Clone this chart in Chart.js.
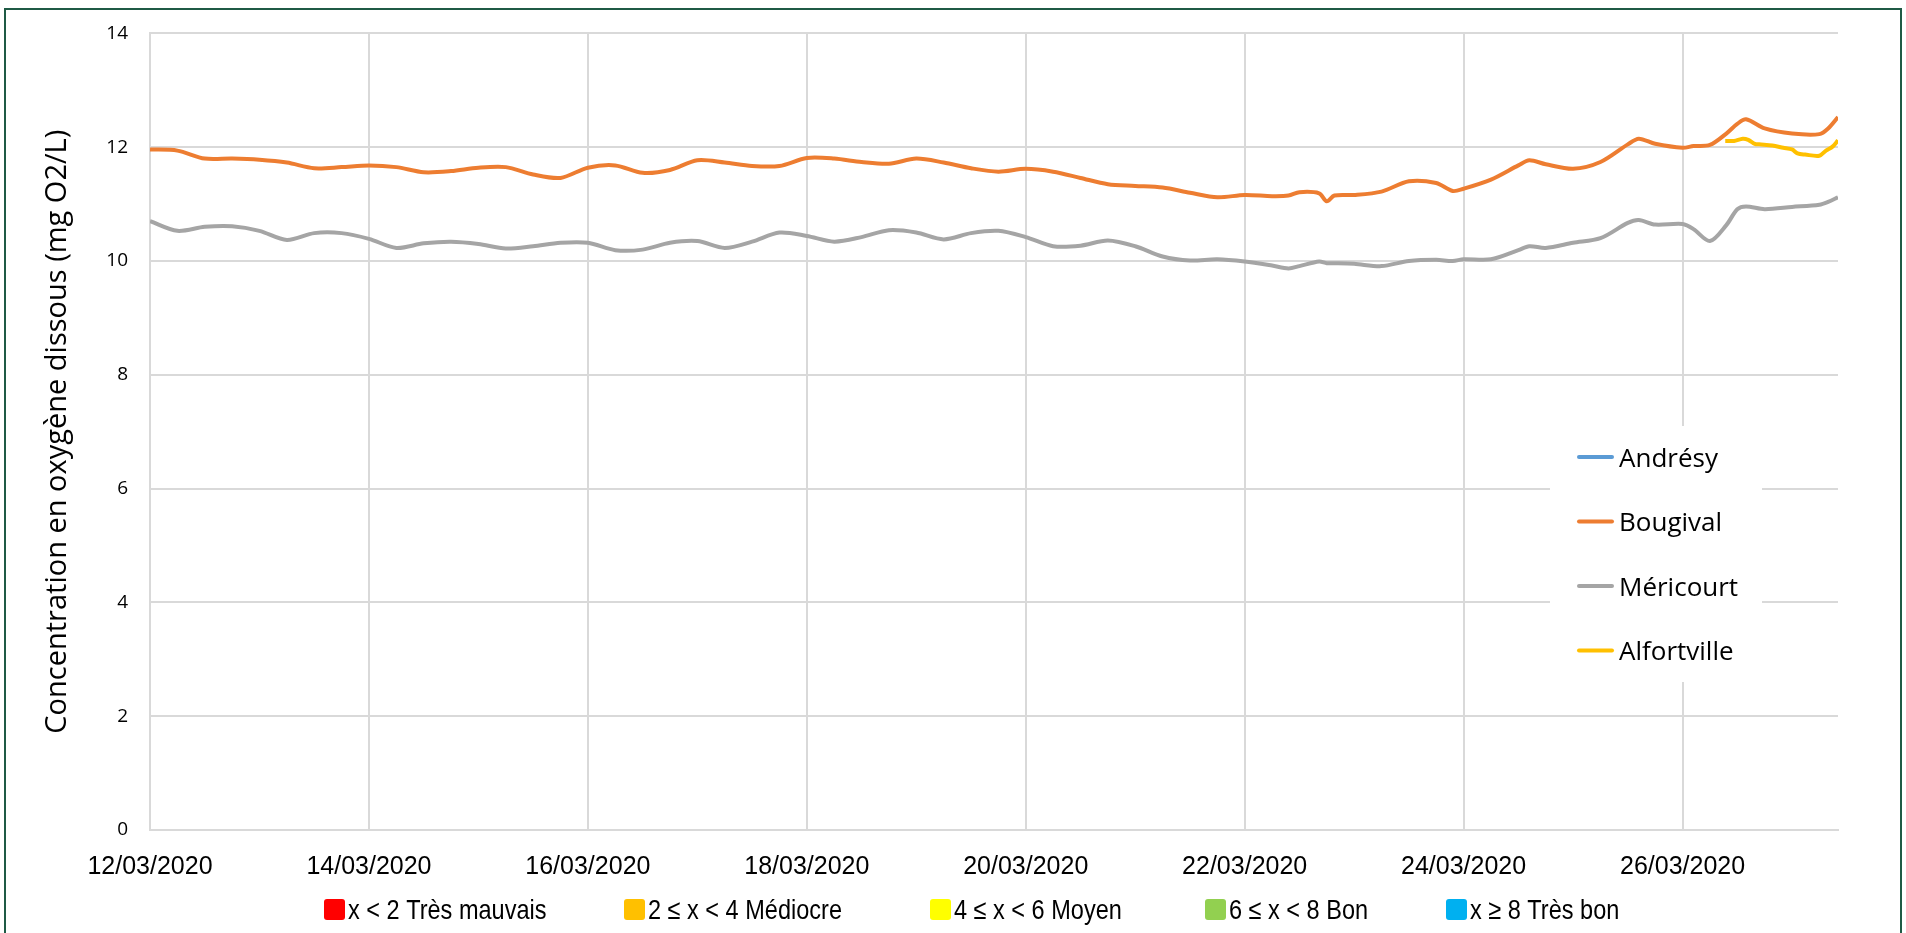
<!DOCTYPE html>
<html lang="fr">
<head>
<meta charset="utf-8">
<title>Oxygène dissous</title>
<script src="https://cdn.jsdelivr.net/npm/chart.js@4.4.1/dist/chart.umd.min.js"></script>
<style>
  html, body { margin: 0; padding: 0; background: #fff; }
  #zone { position: absolute; left: 0; top: 0; width: 1906px; height: 933px; }
  #cadre { position: absolute; left: 4px; top: 8px; width: 1894px; height: 1000px; border: 2px solid #1f5a45; pointer-events: none; }
</style>
</head>
<body>
<div id="zone"><canvas id="grafico" width="1906" height="933"></canvas></div>
<div id="cadre"></div>
<script>
// Fechas del eje (días desde el 12/03/2020)
const etiquetasFechas = ["12/03/2020", "14/03/2020", "16/03/2020", "18/03/2020",
    "20/03/2020", "22/03/2020", "24/03/2020", "26/03/2020"];

const jours = [0, 0.25, 0.5, 0.75, 1, 1.25, 1.5, 1.75, 2, 2.25, 2.5, 2.75, 3, 3.25, 3.5, 3.75,
    4, 4.25, 4.5, 4.75, 5, 5.25, 5.5, 5.75, 6, 6.25, 6.5, 6.75, 7, 7.25, 7.5, 7.75,
    8, 8.25, 8.5, 8.75, 9, 9.25, 9.5, 9.75, 10, 10.25, 10.4, 10.5, 10.68, 10.75, 10.82,
    11, 11.25, 11.5, 11.75, 11.9, 12, 12.25, 12.5, 12.6, 12.75, 13, 13.25, 13.5, 13.6, 13.75,
    14, 14.1, 14.25, 14.4, 14.5, 14.58, 14.75, 15, 15.25, 15.33, 15.42];

const bougival = [11.96, 11.94, 11.80, 11.80, 11.78, 11.73, 11.63, 11.65, 11.68, 11.65, 11.56, 11.58, 11.64, 11.65, 11.52, 11.46,
    11.64, 11.68, 11.55, 11.60, 11.77, 11.73, 11.67, 11.67, 11.81, 11.80, 11.74, 11.71, 11.80, 11.73, 11.63, 11.57,
    11.62, 11.57, 11.46, 11.35, 11.32, 11.29, 11.20, 11.12, 11.16, 11.14, 11.15, 11.21, 11.19, 11.05, 11.15,
    11.16, 11.22, 11.40, 11.37, 11.23, 11.27, 11.43, 11.68, 11.77, 11.70, 11.62, 11.74, 12.05, 12.15, 12.06,
    11.99, 12.02, 12.04, 12.24, 12.41, 12.49, 12.33, 12.24, 12.23, 12.33, 12.53];

const mericourt = [10.70, 10.53, 10.60, 10.61, 10.53, 10.37, 10.49, 10.49, 10.39, 10.23, 10.31, 10.34, 10.30, 10.22, 10.26, 10.32,
    10.32, 10.19, 10.20, 10.32, 10.35, 10.23, 10.34, 10.50, 10.44, 10.34, 10.42, 10.54, 10.50, 10.38, 10.49, 10.53,
    10.42, 10.26, 10.27, 10.36, 10.26, 10.08, 10.01, 10.03, 9.99, 9.92, 9.87, 9.91, 9.99, 9.96, 9.96,
    9.95, 9.91, 10.00, 10.02, 10.00, 10.03, 10.03, 10.19, 10.26, 10.23, 10.32, 10.40, 10.67, 10.72, 10.64,
    10.65, 10.56, 10.35, 10.63, 10.91, 10.96, 10.91, 10.95, 10.99, 11.04, 11.12];

const joursAlf = [14.39, 14.47, 14.55, 14.6, 14.66, 14.7, 14.82, 14.92, 15.0, 15.05, 15.12, 15.25, 15.31, 15.37, 15.42];
const alfortville = [12.11, 12.11, 12.15, 12.13, 12.06, 12.05, 12.03, 11.99, 11.96, 11.89, 11.87, 11.85, 11.94, 12.01, 12.12];

const andresy = [];

const clases = ["x < 2 Très mauvais", "2 ≤ x < 4 Médiocre", "4 ≤ x < 6 Moyen", "6 ≤ x < 8 Bon", "x ≥ 8 Très bon"];
const coloresClases = ["#ff0000", "#ffc000", "#ffff00", "#92d050", "#00b0f0"];

function puntos(xs, ys) {
    return ys.map((v, i) => ({ x: xs[i], y: v }));
}

// Leyendas dibujadas a mano (la de series dentro del gráfico y la de clases abajo)
const leyendas = {
    id: "leyendas",
    afterDraw(chart) {
        const ctx = chart.ctx;
        ctx.save();

        ctx.fillStyle = "#fff";
        ctx.fillRect(1550, 426, 212, 256);

        chart.data.datasets.forEach((ds, i) => {
            const y = 457 + i * 64.5;
            ctx.strokeStyle = ds.borderColor;
            ctx.lineWidth = 4;
            ctx.lineCap = "round";
            ctx.beginPath();
            ctx.moveTo(1579, y);
            ctx.lineTo(1612, y);
            ctx.stroke();
            ctx.fillStyle = "#000";
            ctx.font = "26px 'Open Sans'";
            ctx.textBaseline = "alphabetic";
            ctx.fillText(ds.label, 1619, y + 9.5);
        });

        // texto estrecho: se comprime en horizontal
        const estrecho = 0.84;
        const inicios = [324, 624, 930, 1205, 1446];
        ctx.font = "28px 'Liberation Sans'";
        clases.forEach((txt, i) => {
            const x = inicios[i];
            ctx.fillStyle = coloresClases[i];
            ctx.beginPath();
            ctx.roundRect(x, 899, 21, 21, 3);
            ctx.fill();
            ctx.fillStyle = "#000";
            ctx.save();
            ctx.translate(x + 24, 919);
            ctx.scale(estrecho, 1);
            ctx.fillText(txt, 0, 0);
            ctx.restore();
        });

        ctx.restore();
    }
};

const ctx = document.getElementById("grafico").getContext("2d");

new Chart(ctx, {
    type: "line",
    data: {
        datasets: [
            { label: "Andrésy", data: andresy, borderColor: "#5b9bd5" },
            { label: "Bougival", data: puntos(jours, bougival), borderColor: "#ed7d31" },
            { label: "Méricourt", data: puntos(jours, mericourt), borderColor: "#a5a5a5" },
            { label: "Alfortville", data: puntos(joursAlf, alfortville), borderColor: "#ffc000" }
        ]
    },
    options: {
        responsive: false,
        animation: false,
        layout: { padding: { left: 0, top: 32, right: 68, bottom: 43 } },
        elements: {
            line: { borderWidth: 4, tension: 0.3, fill: false },
            point: { radius: 0, hoverRadius: 0 }
        },
        plugins: {
            legend: { display: false },
            tooltip: { enabled: false }
        },
        scales: {
            x: {
                type: "linear",
                min: 0,
                max: 15.42,
                afterFit: s => { s.height = 60; },
                grid: { color: "#d9d9d9", lineWidth: 2, drawTicks: false },
                border: { color: "#d9d9d9", width: 2 },
                ticks: {
                    stepSize: 2,
                    includeBounds: false,
                    autoSkip: false,
                    maxRotation: 0,
                    padding: 22,
                    color: "#000",
                    font: { family: "'Liberation Sans'", size: 25 },
                    callback: (v, i) => etiquetasFechas[i]
                }
            },
            y: {
                min: 0,
                max: 14,
                afterFit: s => { s.width = 150; },
                grid: { color: "#d9d9d9", lineWidth: 2, drawTicks: false },
                border: { color: "#d9d9d9", width: 2 },
                ticks: {
                    stepSize: 2,
                    padding: 22,
                    color: "#000",
                    font: { family: "'Open Sans'", size: 19 }
                },
                title: {
                    display: true,
                    text: "Concentration en oxygène dissous (mg O2/L)",
                    color: "#000",
                    font: { family: "'Open Sans'", size: 29 },
                    padding: { top: 40, bottom: 0 }
                }
            }
        }
    },
    plugins: [leyendas]
});
</script>
</body>
</html>
